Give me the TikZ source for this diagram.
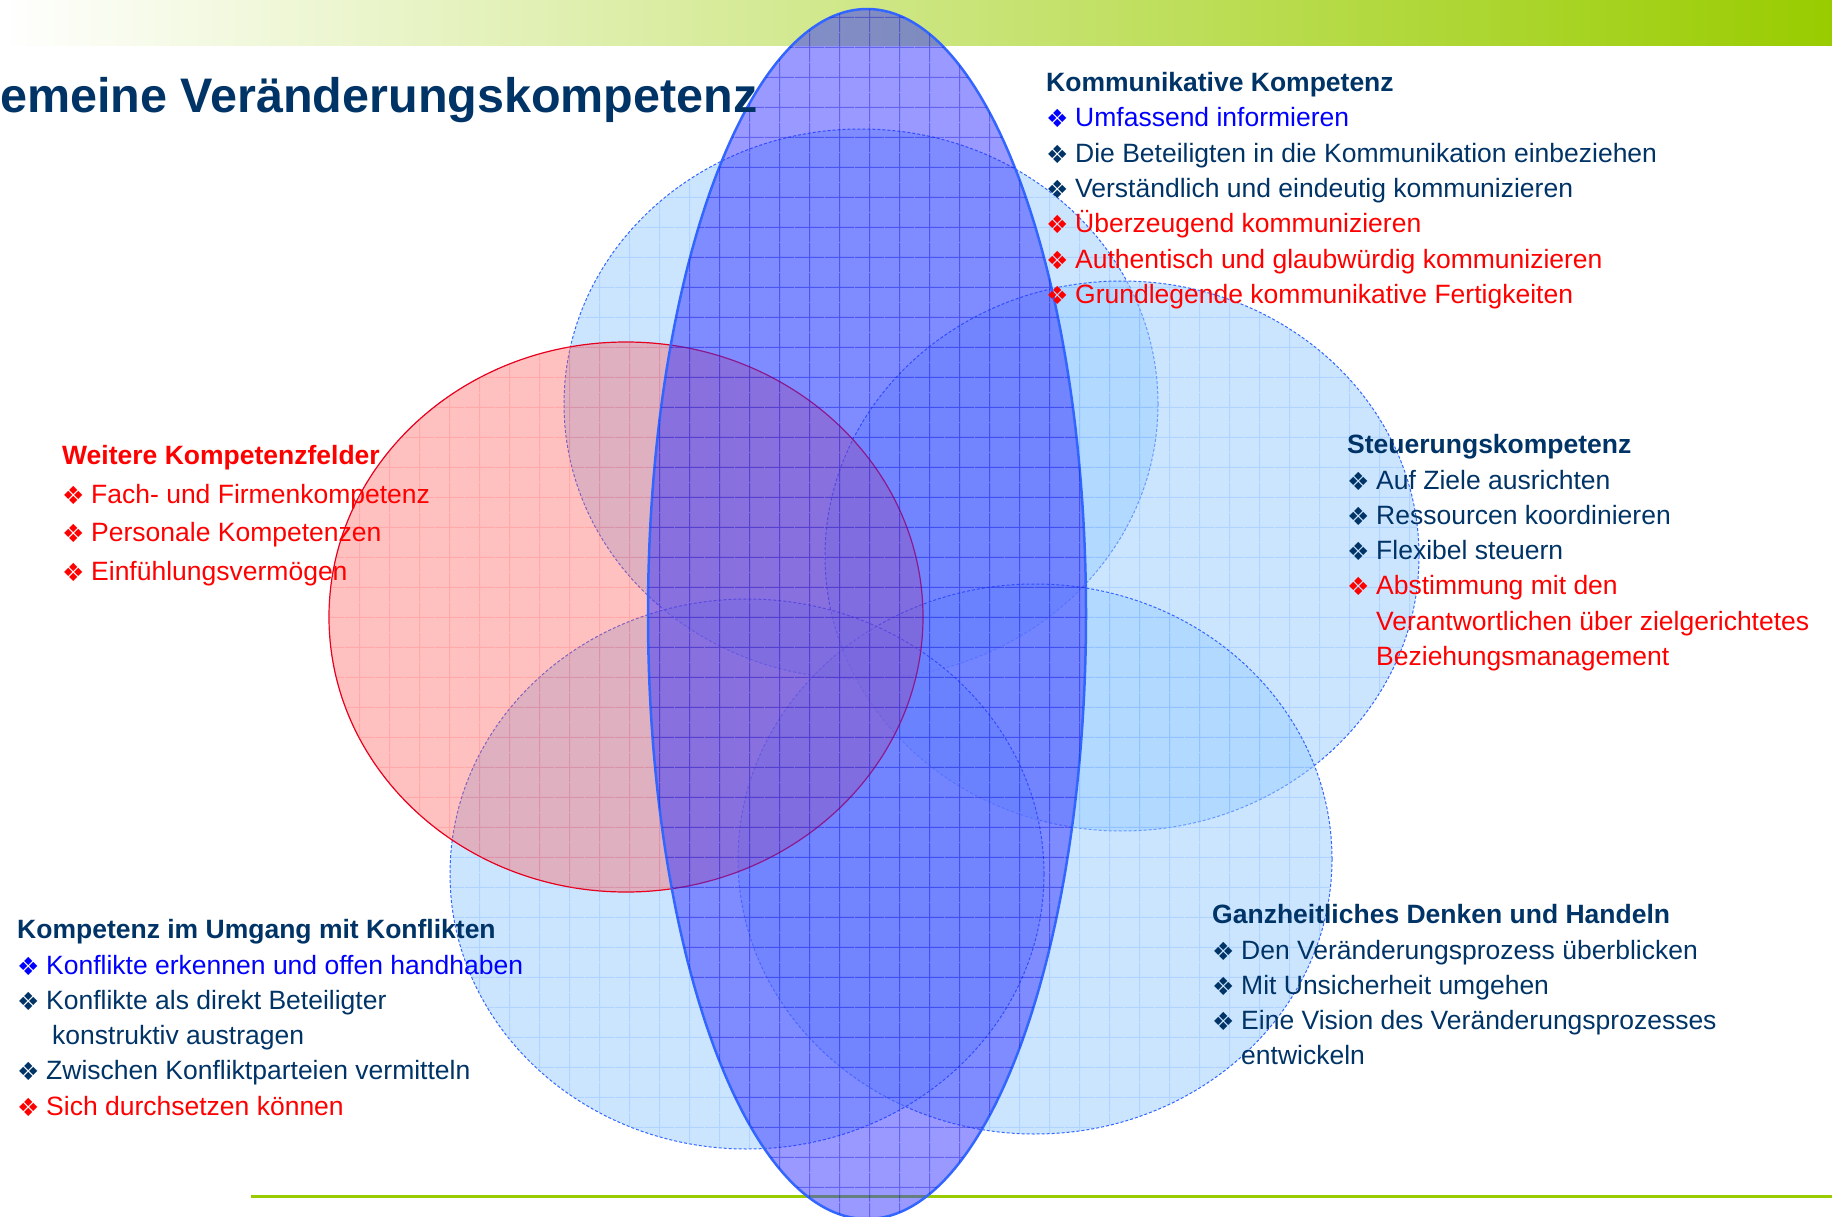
\documentclass[tikz,border=0pt]{standalone}
\usepackage{fontspec}
\setmainfont{Liberation Sans}
\newfontfamily\symfont{DejaVu Sans}
\usetikzlibrary{shapes.geometric,patterns.meta}

\definecolor{navy}{RGB}{0,51,102}
\definecolor{hellblau}{RGB}{153,204,255}
\definecolor{gitterblau}{RGB}{110,170,255}
\definecolor{kernblau}{RGB}{51,51,255}
\definecolor{randblau}{RGB}{51,102,255}
\definecolor{rosa}{RGB}{255,90,90}
\definecolor{randrot}{RGB}{230,0,30}
\definecolor{balkengruen}{RGB}{153,204,0}

\newcommand{\bul}[1]{\makebox[29pt][l]{\raisebox{-1pt}{\textcolor{#1}{\symfont\fontsize{25}{25}\selectfont ❖}}}}
\newcommand{\itm}[2]{\textcolor{#1}{\bul{#1}#2}}
\newcommand{\weiter}[3][29pt]{\hspace*{#1}\textcolor{#2}{#3}}

\begin{document}
\begin{tikzpicture}[x=1pt, y=-1pt,
        feld/.style={ellipse, draw=randblau, dash pattern=on 3pt off 2pt, line width=1pt, fill=hellblau, fill opacity=0.5, minimum width=594pt, minimum height=550pt,
            postaction={pattern={Hatch[angle=0,distance=30pt,line width=1pt]}, pattern color=gitterblau, fill opacity=0.3}},
        rotfeld/.style={ellipse, draw=randrot, line width=1.2pt, fill=rosa, fill opacity=0.38, minimum width=594pt, minimum height=550pt,
            postaction={pattern={Hatch[angle=0,distance=30pt,line width=1pt]}, pattern color=red!60, fill opacity=0.25}},
        kern/.style={ellipse, draw=randblau, line width=2.5pt, fill=kernblau, fill opacity=0.5, minimum width=438pt, minimum height=1210pt,
            postaction={pattern={Hatch[angle=0,distance=30pt,line width=1pt]}, pattern color=blue!80!black, fill opacity=0.35}},
        liste/.style={anchor=north west, align=left, inner sep=0pt, text=navy, font=\fontsize{26.5}{35.3}\selectfont},
        titel/.style={anchor=base west, inner sep=0pt, text=navy, font=\fontsize{48.5}{56}\selectfont\bfseries}
    ]
        \useasboundingbox (0,0) rectangle (1832,1217);

        % Kopfbalken und Fusslinie
        \shade[left color=white, right color=balkengruen] (0,0) rectangle (1832,46);
        \draw[balkengruen, line width=3pt] (251,1196) -- (1832,1196);

        % Kompetenzfelder
        \node[feld] (kommfeld) at (861,404) {};
        \node[feld] (steufeld) at (1122,556) {};
        \node[feld] (ganzfeld) at (1035,859) {};
        \node[feld] (konffeld) at (747,874) {};
        \node[rotfeld] (weitfeld) at (626,617) {};
        \node[kern] (kernfeld) at (867,614) {};

        % Titel
        \node[titel] (kopf) at (0,113) {emeine Veränderungskompetenz};

        % Listen
        \node[liste] (komm) at (1046,66.6) {\strut\textbf{Kommunikative Kompetenz}\\
            \itm{blue}{Umfassend informieren}\\
            \itm{navy}{Die Beteiligten in die Kommunikation einbeziehen}\\
            \itm{navy}{Verständlich und eindeutig kommunizieren}\\
            \itm{red}{Überzeugend kommunizieren}\\
            \itm{red}{Authentisch und glaubwürdig kommunizieren}\\
            \itm{red}{Grundlegende kommunikative Fertigkeiten}};

        \node[liste, font=\fontsize{26.5}{38.6}\selectfont] (weit) at (62,437.5) {\strut\textcolor{red}{\textbf{Weitere Kompetenzfelder}}\\
            \itm{red}{Fach- und Firmenkompetenz}\\
            \itm{red}{Personale Kompetenzen}\\
            \itm{red}{Einfühlungsvermögen}};

        \node[liste] (steu) at (1347,428.8) {\strut\textbf{Steuerungskompetenz}\\
            \itm{navy}{Auf Ziele ausrichten}\\
            \itm{navy}{Ressourcen koordinieren}\\
            \itm{navy}{Flexibel steuern}\\
            \itm{red}{Abstimmung mit den}\\
            \weiter{red}{Verantwortlichen über zielgerichtetes}\\
            \weiter{red}{Beziehungsmanagement}};

        \node[liste] (ganz) at (1212,898.8) {\strut\textbf{Ganzheitliches Denken und Handeln}\\
            \itm{navy}{Den Veränderungsprozess überblicken}\\
            \itm{navy}{Mit Unsicherheit umgehen}\\
            \itm{navy}{Eine Vision des Veränderungsprozesses}\\
            \weiter{navy}{entwickeln}};

        \node[liste] (konf) at (17,913.8) {\strut\textbf{Kompetenz im Umgang mit Konflikten}\\
            \itm{blue}{Konflikte erkennen und offen handhaben}\\
            \itm{navy}{Konflikte als direkt Beteiligter}\\
            \weiter[35pt]{navy}{konstruktiv austragen}\\
            \itm{navy}{Zwischen Konfliktparteien vermitteln}\\
            \itm{red}{Sich durchsetzen können}};
    \end{tikzpicture}
\end{document}
